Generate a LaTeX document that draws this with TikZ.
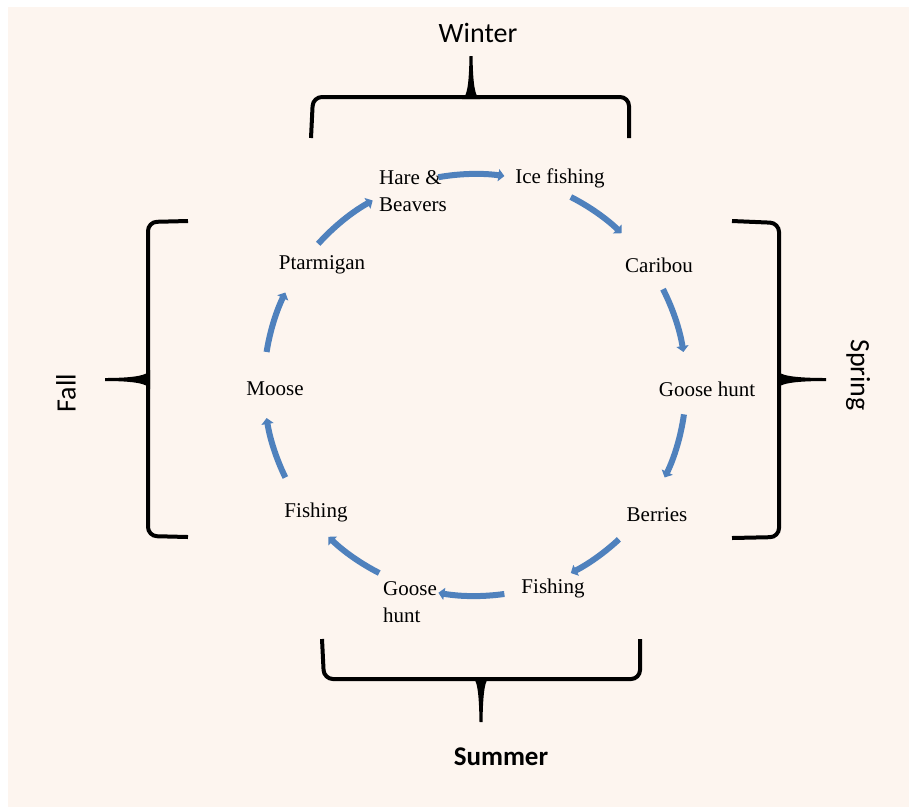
\documentclass[tikz,border=0pt]{standalone}
\usepackage{fontspec}
\setmainfont{Liberation Serif}
\newfontfamily\labfont{Carlito}
\usetikzlibrary{arrows.meta}
\definecolor{peach}{RGB}{253,245,239}
\definecolor{arrowblue}{RGB}{79,129,189}
\tikzset{
  item/.style={inner sep=0pt, font=\fontsize{21}{27}\selectfont, text=black},
  season/.style={inner sep=0pt, font=\labfont\fontsize{28}{32}\selectfont},
  flow/.style={draw=arrowblue, line width=6pt, -{Triangle[length=6pt,width=12pt]}},
  bracebar/.style={draw=black, line width=4pt, rounded corners=9pt},
  bracetip/.style={fill=black}
}
\begin{document}
\begin{tikzpicture}[x=1pt,y=-1pt]
\useasboundingbox (0,0) rectangle (909,807);
\fill[white] (0,0) rectangle (909,807);
\fill[peach] (8,7) rectangle (909,807);

% circle centre
\coordinate (c) at (475,385);

% activity nodes
\node[item, anchor=west, align=left] (hare) at (379,191) {Hare \&\\Beavers};
\node[item] (ice) at (560,178) {Ice fishing};
\node[item] (caribou) at (659,265) {Caribou};
\node[item] (goosea) at (707,389) {Goose hunt};
\node[item] (berries) at (657,515) {Berries};
\node[item] (fisha) at (553,588) {Fishing};
\node[item, anchor=west, align=left] (gooseb) at (383,602) {Goose\\hunt};
\node[item] (fishb) at (316,512) {Fishing};
\node[item] (moose) at (275,389) {Moose};
\node[item] (ptarm) at (322,265) {Ptarmigan};

% cycle arrows (arcs of the circle round c)
\draw[flow] (c) ++(100:211pt) arc[start angle=100, end angle=82, radius=211pt];
\draw[flow] (c) ++(63:211pt) arc[start angle=63, end angle=46, radius=211pt];
\draw[flow] (c) ++(27:211pt) arc[start angle=27, end angle=9, radius=211pt];
\draw[flow] (c) ++(-8:211pt) arc[start angle=-8, end angle=-26, radius=211pt];
\draw[flow] (c) ++(-47:211pt) arc[start angle=-47, end angle=-63, radius=211pt];
\draw[flow] (c) ++(-82:211pt) arc[start angle=-82, end angle=-100, radius=211pt];
\draw[flow] (c) ++(-117:211pt) arc[start angle=-117, end angle=-134, radius=211pt];
\draw[flow] (c) ++(-154:211pt) arc[start angle=-154, end angle=-171, radius=211pt];
\draw[flow] (c) ++(171:211pt) arc[start angle=171, end angle=154, radius=211pt];
\draw[flow] (c) ++(138:211pt) arc[start angle=138, end angle=119, radius=211pt];

% Winter brace (top)
\draw[bracebar] (311,138) -- (313,97) -- (629,97) -- (629,138);
\fill[bracetip] (462,99) .. controls (467,97) and (469,85) .. (469.5,56) -- (472.5,56) .. controls (473,85) and (475,97) .. (480,99) -- cycle;
% Summer brace (bottom)
\draw[bracebar] (322,639) -- (324,679) -- (640,679) -- (640,639);
\fill[bracetip] (472,677) .. controls (477,679) and (479,691) .. (479.5,722) -- (482.5,722) .. controls (483,691) and (485,679) .. (490,677) -- cycle;
% Fall brace (left)
\draw[bracebar] (188,221) -- (148,222) -- (148,536) -- (188,537);
\fill[bracetip] (150,370) .. controls (148,375) and (136,378) .. (105,378) -- (105,381) .. controls (136,381) and (148,384) .. (150,389) -- cycle;
% Spring brace (right)
\draw[bracebar] (732,221) -- (779,223) -- (779,537) -- (732,538);
\fill[bracetip] (777,370) .. controls (779,375) and (791,378) .. (826,378) -- (826,381) .. controls (791,381) and (779,384) .. (777,389) -- cycle;

% season labels
\node[season] (winter) at (478,33) {Winter};
\node[season, font=\labfont\bfseries\fontsize{27}{32}\selectfont] (summer) at (501,757) {Summer};
\node[season, rotate=90] (fall) at (66,393) {Fall};
\node[season, rotate=-90] (spring) at (858,375) {Spring};
\end{tikzpicture}
\end{document}
